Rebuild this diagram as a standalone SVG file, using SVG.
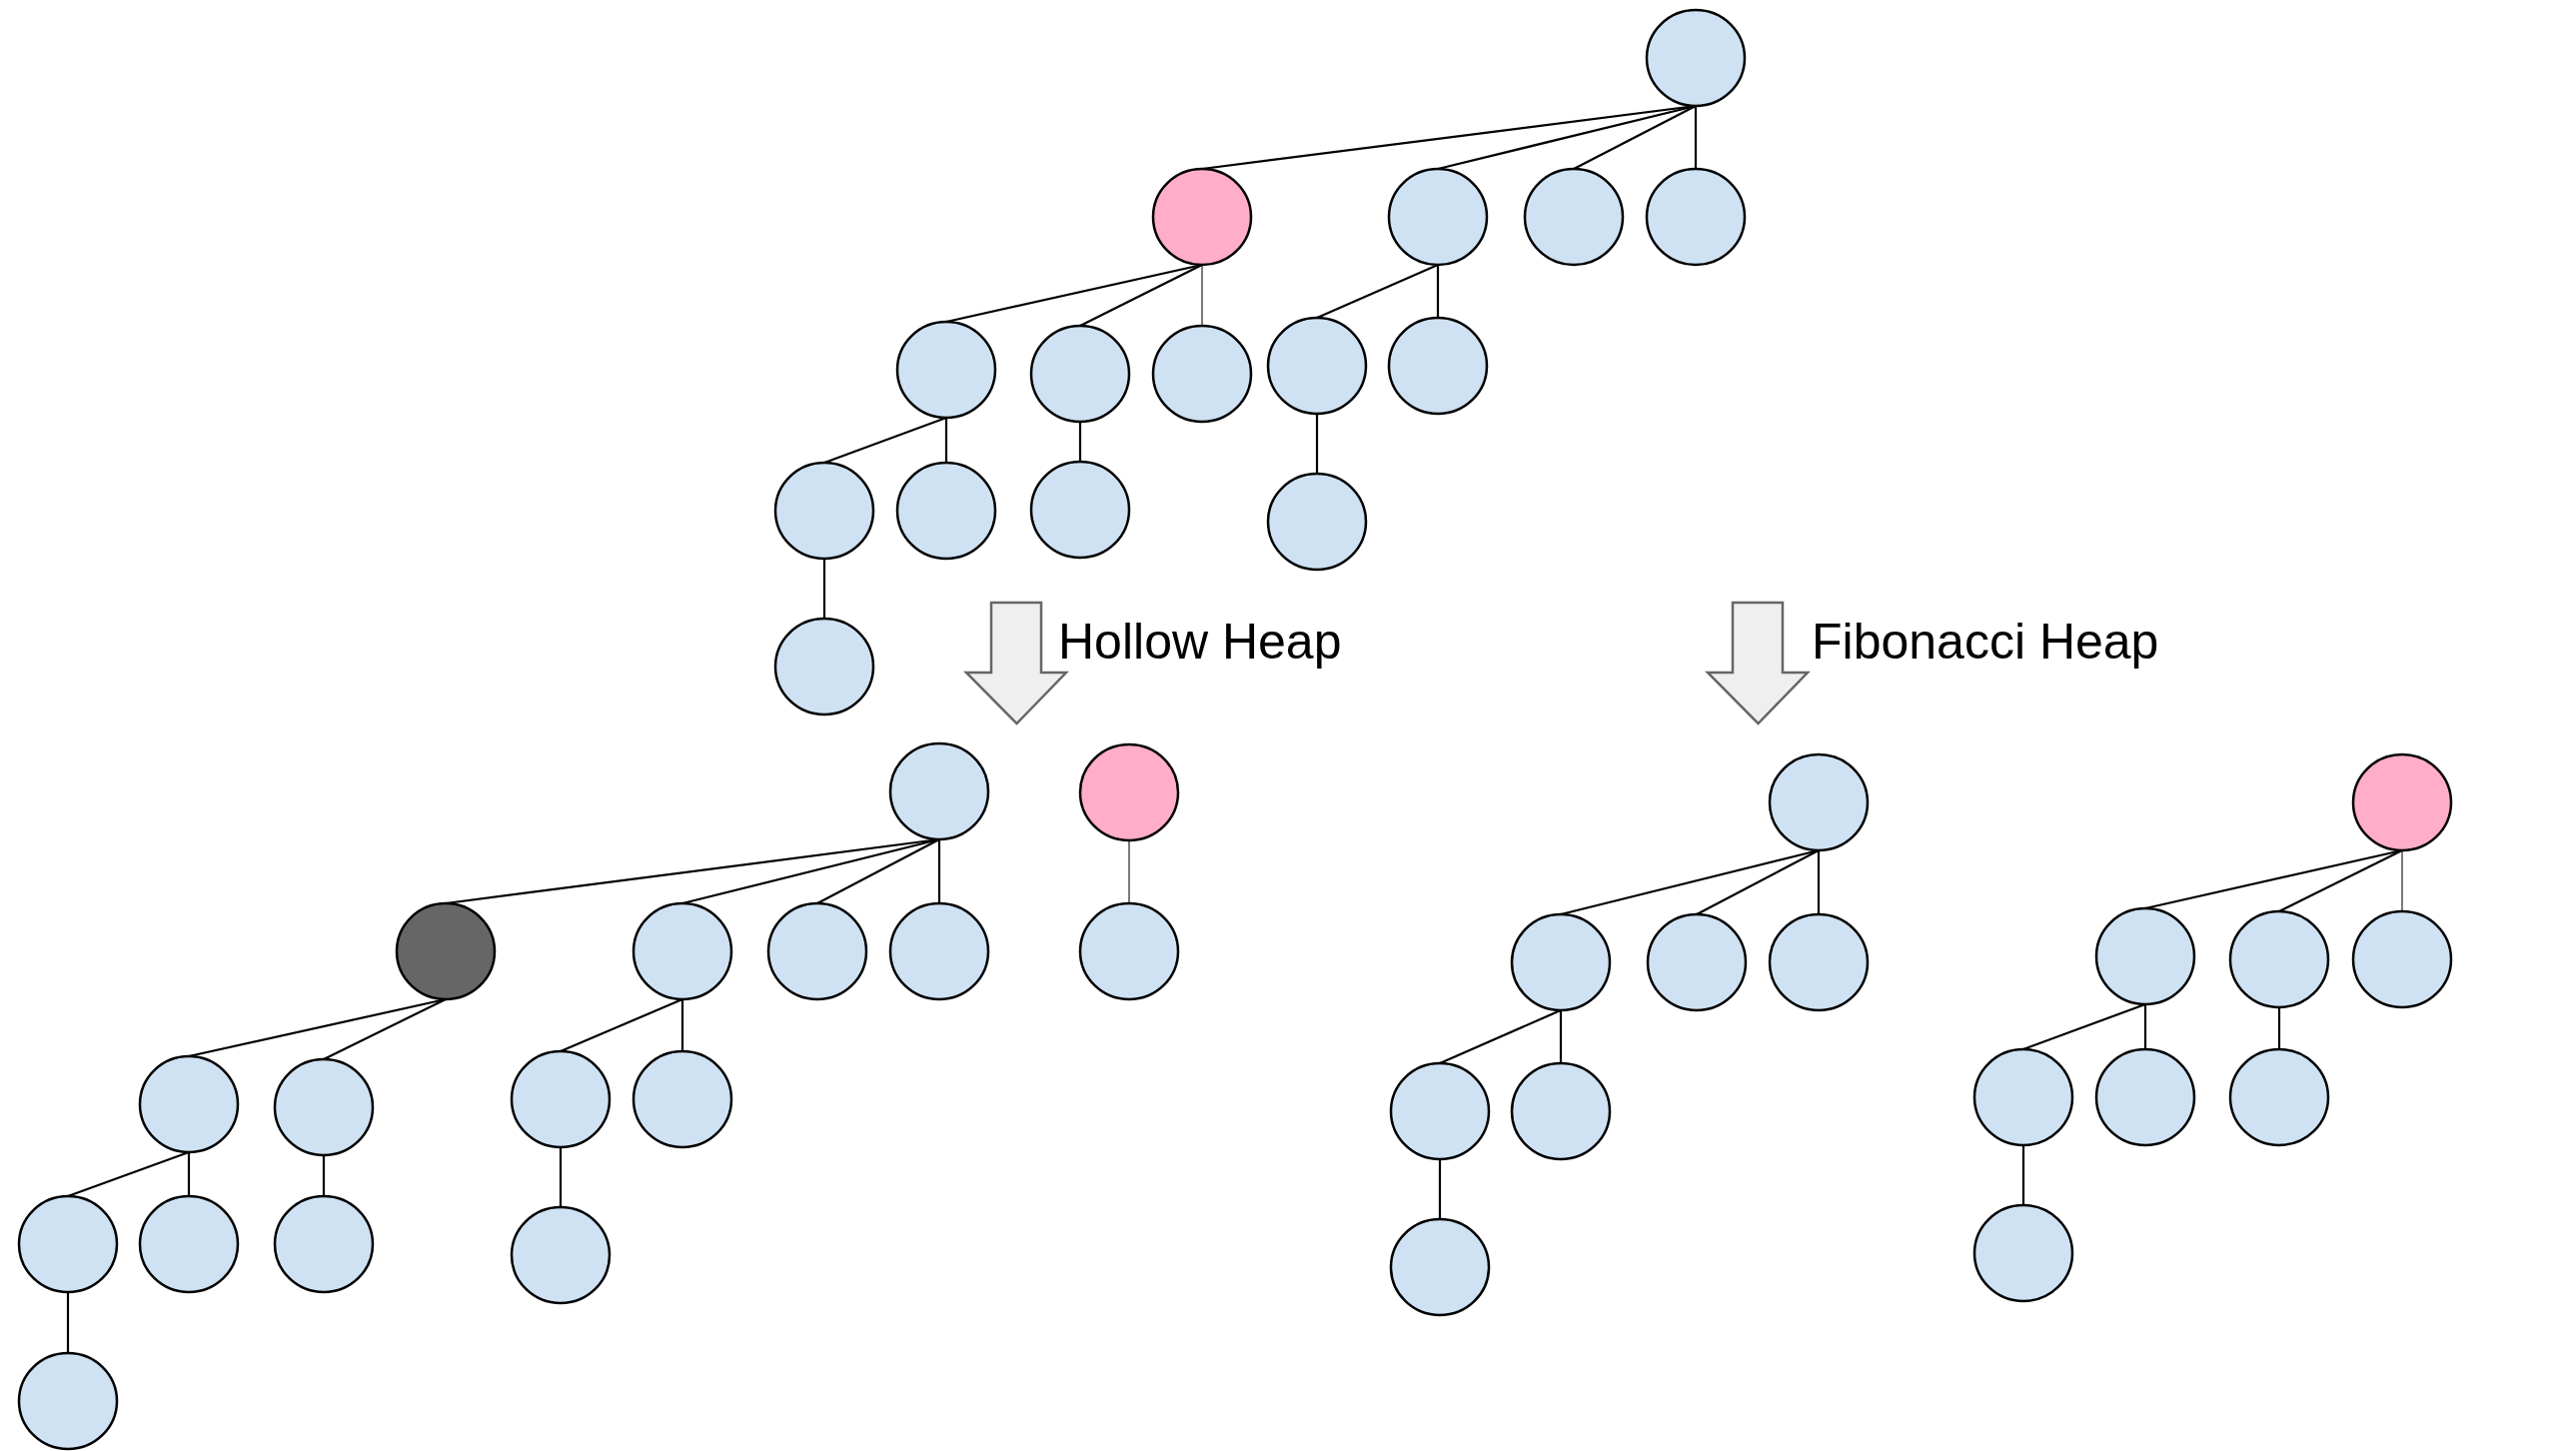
<svg xmlns="http://www.w3.org/2000/svg" width="2578" height="1452" viewBox="0 0 2578 1452">
<style>
.n{fill:#cfe2f3;stroke:#000;stroke-width:2.5}
.p{fill:#ffadc9;stroke:#000;stroke-width:2.5}
.h{fill:#666666;stroke:#000;stroke-width:2.5}
.e{stroke:#000;stroke-width:2.2;fill:none}
.g{stroke:#595959;stroke-width:1.6;fill:none}
.ar{fill:#efefef;stroke:#666;stroke-width:2.5;stroke-linejoin:miter}
.t{font-family:"Liberation Sans",Arial,sans-serif;font-size:50px;fill:#000}
</style>
<rect width="2578" height="1452" fill="#fff"/>
<g id="connectors">
<!-- top tree -->
<line class="e" x1="1697" y1="106" x2="1203" y2="169"/>
<line class="e" x1="1697" y1="106" x2="1439" y2="169"/>
<line class="e" x1="1697" y1="106" x2="1575" y2="169"/>
<line class="e" x1="1697" y1="106" x2="1697" y2="169"/>
<line class="e" x1="1203" y1="265" x2="947" y2="322"/>
<line class="e" x1="1203" y1="265" x2="1081" y2="326"/>
<line class="g" x1="1203" y1="265" x2="1203" y2="326"/>
<line class="e" x1="1439" y1="265" x2="1318" y2="318"/>
<line class="e" x1="1439" y1="265" x2="1439" y2="318"/>
<line class="e" x1="947" y1="418" x2="825" y2="463"/>
<line class="e" x1="947" y1="418" x2="947" y2="463"/>
<line class="e" x1="1081" y1="422" x2="1081" y2="462"/>
<line class="e" x1="1318" y1="414" x2="1318" y2="474"/>
<line class="e" x1="825" y1="559" x2="825" y2="619"/>
<!-- hollow heap -->
<line class="e" x1="940" y1="840" x2="446" y2="904"/>
<line class="e" x1="940" y1="840" x2="683" y2="904"/>
<line class="e" x1="940" y1="840" x2="818" y2="904"/>
<line class="e" x1="940" y1="840" x2="940" y2="904"/>
<line class="g" x1="1130" y1="841" x2="1130" y2="904"/>
<line class="e" x1="446" y1="1000" x2="189" y2="1057"/>
<line class="e" x1="446" y1="1000" x2="324" y2="1060"/>
<line class="e" x1="683" y1="1000" x2="561" y2="1052"/>
<line class="e" x1="683" y1="1000" x2="683" y2="1052"/>
<line class="e" x1="189" y1="1153" x2="68" y2="1197"/>
<line class="e" x1="189" y1="1153" x2="189" y2="1197"/>
<line class="e" x1="324" y1="1156" x2="324" y2="1197"/>
<line class="e" x1="561" y1="1148" x2="561" y2="1208"/>
<line class="e" x1="68" y1="1293" x2="68" y2="1354"/>
<!-- fibonacci heap -->
<line class="e" x1="1820" y1="851" x2="1562" y2="915"/>
<line class="e" x1="1820" y1="851" x2="1698" y2="915"/>
<line class="e" x1="1820" y1="851" x2="1820" y2="915"/>
<line class="e" x1="1562" y1="1011" x2="1441" y2="1064"/>
<line class="e" x1="1562" y1="1011" x2="1562" y2="1064"/>
<line class="e" x1="1441" y1="1160" x2="1441" y2="1220"/>
<line class="e" x1="2404" y1="851" x2="2147" y2="909"/>
<line class="e" x1="2404" y1="851" x2="2281" y2="912"/>
<line class="g" x1="2404" y1="851" x2="2404" y2="912"/>
<line class="e" x1="2147" y1="1005" x2="2025" y2="1050"/>
<line class="e" x1="2147" y1="1005" x2="2147" y2="1050"/>
<line class="e" x1="2281" y1="1008" x2="2281" y2="1050"/>
<line class="e" x1="2025" y1="1146" x2="2025" y2="1206"/>
</g>
<g id="top-tree">
<g id="t0"><ellipse class="n" cx="1697" cy="58" rx="49" ry="48"/></g>
<g id="t1"><ellipse class="p" cx="1203" cy="217" rx="49" ry="48"/></g>
<g id="t2"><ellipse class="n" cx="1439" cy="217" rx="49" ry="48"/></g>
<g id="t3"><ellipse class="n" cx="1575" cy="217" rx="49" ry="48"/></g>
<g id="t4"><ellipse class="n" cx="1697" cy="217" rx="49" ry="48"/></g>
<g id="ta"><ellipse class="n" cx="947" cy="370" rx="49" ry="48"/></g>
<g id="tb"><ellipse class="n" cx="1081" cy="374" rx="49" ry="48"/></g>
<g id="tc"><ellipse class="n" cx="1203" cy="374" rx="49" ry="48"/></g>
<g id="td"><ellipse class="n" cx="1318" cy="366" rx="49" ry="48"/></g>
<g id="te"><ellipse class="n" cx="1439" cy="366" rx="49" ry="48"/></g>
<g id="ta1"><ellipse class="n" cx="825" cy="511" rx="49" ry="48"/></g>
<g id="ta2"><ellipse class="n" cx="947" cy="511" rx="49" ry="48"/></g>
<g id="tb1"><ellipse class="n" cx="1081" cy="510" rx="49" ry="48"/></g>
<g id="td1"><ellipse class="n" cx="1318" cy="522" rx="49" ry="48"/></g>
<g id="ta1a"><ellipse class="n" cx="825" cy="667" rx="49" ry="48"/></g>
</g>
<g id="arrow-hollow">
<path class="ar" d="M992,603 H1042 V673 H1067 L1017.5,724 L967,673 H992 Z"/>
<text class="t" x="1059" y="659">Hollow Heap</text>
</g>
<g id="arrow-fib">
<path class="ar" d="M1734,603 H1784 V673 H1809 L1759.5,724 L1709,673 H1734 Z"/>
<text class="t" x="1813" y="659">Fibonacci Heap</text>
</g>
<g id="hollow-tree">
<g id="hr"><ellipse class="n" cx="940" cy="792" rx="49" ry="48"/></g>
<g id="hp"><ellipse class="p" cx="1130" cy="793" rx="49" ry="48"/></g>
<g id="hd"><ellipse class="h" cx="446" cy="952" rx="49" ry="48"/></g>
<g id="h2"><ellipse class="n" cx="683" cy="952" rx="49" ry="48"/></g>
<g id="h3"><ellipse class="n" cx="818" cy="952" rx="49" ry="48"/></g>
<g id="h4"><ellipse class="n" cx="940" cy="952" rx="49" ry="48"/></g>
<g id="hpc"><ellipse class="n" cx="1130" cy="952" rx="49" ry="48"/></g>
<g id="l1"><ellipse class="n" cx="189" cy="1105" rx="49" ry="48"/></g>
<g id="l2"><ellipse class="n" cx="324" cy="1108" rx="49" ry="48"/></g>
<g id="m1"><ellipse class="n" cx="561" cy="1100" rx="49" ry="48"/></g>
<g id="m2"><ellipse class="n" cx="683" cy="1100" rx="49" ry="48"/></g>
<g id="l1a"><ellipse class="n" cx="68" cy="1245" rx="49" ry="48"/></g>
<g id="l1b"><ellipse class="n" cx="189" cy="1245" rx="49" ry="48"/></g>
<g id="l2a"><ellipse class="n" cx="324" cy="1245" rx="49" ry="48"/></g>
<g id="m1a"><ellipse class="n" cx="561" cy="1256" rx="49" ry="48"/></g>
<g id="l1aa"><ellipse class="n" cx="68" cy="1402" rx="49" ry="48"/></g>
</g>
<g id="fib-tree">
<g id="fr"><ellipse class="n" cx="1820" cy="803" rx="49" ry="48"/></g>
<g id="f1"><ellipse class="n" cx="1562" cy="963" rx="49" ry="48"/></g>
<g id="f2"><ellipse class="n" cx="1698" cy="963" rx="49" ry="48"/></g>
<g id="f3"><ellipse class="n" cx="1820" cy="963" rx="49" ry="48"/></g>
<g id="f1a"><ellipse class="n" cx="1441" cy="1112" rx="49" ry="48"/></g>
<g id="f1b"><ellipse class="n" cx="1562" cy="1112" rx="49" ry="48"/></g>
<g id="f1aa"><ellipse class="n" cx="1441" cy="1268" rx="49" ry="48"/></g>
<g id="fp"><ellipse class="p" cx="2404" cy="803" rx="49" ry="48"/></g>
<g id="g1"><ellipse class="n" cx="2147" cy="957" rx="49" ry="48"/></g>
<g id="g2"><ellipse class="n" cx="2281" cy="960" rx="49" ry="48"/></g>
<g id="g3"><ellipse class="n" cx="2404" cy="960" rx="49" ry="48"/></g>
<g id="g1a"><ellipse class="n" cx="2025" cy="1098" rx="49" ry="48"/></g>
<g id="g1b"><ellipse class="n" cx="2147" cy="1098" rx="49" ry="48"/></g>
<g id="g2a"><ellipse class="n" cx="2281" cy="1098" rx="49" ry="48"/></g>
<g id="g1aa"><ellipse class="n" cx="2025" cy="1254" rx="49" ry="48"/></g>
</g>
</svg>
